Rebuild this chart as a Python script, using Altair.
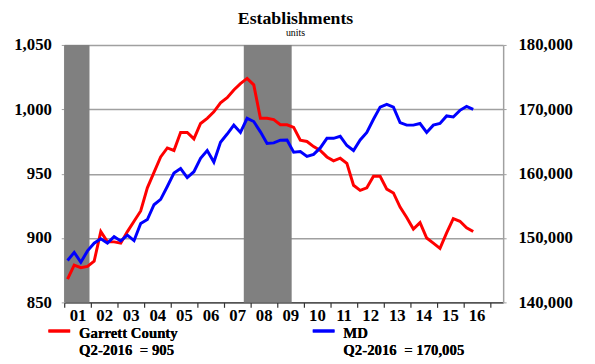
import altair as alt
import pandas as pd

# ---- data -----------------------------------------------------------
YEAR_LABELS = ["01", "02", "03", "04", "05", "06", "07", "08",
               "09", "10", "11", "12", "13", "14", "15", "16"]

# quarterly values 2001Q1 .. 2016Q2
GARRETT = [868, 879, 877, 878, 882, 905, 897, 897, 896, 905, 913, 921,
           939, 951, 963, 970, 968, 982, 982, 977, 989, 993, 998, 1005,
           1009, 1015, 1020, 1024, 1019, 993, 993, 992, 988, 988, 986, 976,
           975, 971, 968, 963, 960, 962, 958, 941, 937, 939, 948, 948,
           938, 935, 924, 916, 907, 912, 900, 896, 892, 904, 915, 913,
           908, 905]
MD = [146500, 147770, 146240, 148000, 149200, 149900, 149200, 150200,
      149550, 150450, 149600, 152260, 152870, 155170, 156000, 158000,
      160100, 160800, 159400, 160300, 162400, 163600, 161800, 164870,
      166160, 167540, 166400, 168600, 168100, 166500, 164700, 164780,
      165200, 165240, 163340, 163450, 162680, 163000, 164000, 165490,
      165490, 165800, 164370, 163600, 165240, 166400, 168460, 170350,
      170760, 170350, 167940, 167540, 167540, 167790, 166410, 167540,
      167790, 168970, 168810, 169840, 170450, 170005]

REC_START = [2001.0, 2007.75]
REC_END = [2001.95, 2009.55]

SERIES = ["Garrett County", "MD"]
LAST_VALUE = ["Q2-2016\u00a0 = 905", "Q2-2016\u00a0 = 170,005"]
COLORS = ["#ff0000", "#0000ff"]

LEFT_TICKS = [850, 900, 950, 1000, 1050]
RIGHT_TICKS = [140000, 150000, 160000, 170000, 180000]

# ---- tables -----------------------------------------------------------
n = len(GARRETT)
df = pd.DataFrame({
    "t": [2001 + (i + 0.5) / 4 for i in range(n)],
    "garrett": GARRETT,
    "md": MD,
})
rec = pd.DataFrame({"start": REC_START, "end": REC_END})

FONT = "Liberation Serif"
W, H = 445, 261

label_expr = "[" + ",".join("'%s'" % s for s in YEAR_LABELS) + ",''][datum.value - 2001]"

x_axis = alt.Axis(
    values=list(range(2001, 2018)), labelExpr=label_expr, labelOffset=13.5,
    title=None, grid=False, domainColor="#333333", domainWidth=1.5,
    tickColor="#333333", tickSize=5, tickWidth=1.2, labelFont=FONT,
    labelFontSize=17, labelFontWeight="bold", labelColor="#000000",
    labelPadding=0, labelFlush=False, labelOverlap=False, labelBound=False,
)
x_scale = alt.Scale(domain=[2001, 2017.5], nice=False, zero=False)

bands = alt.Chart(rec).mark_rect(color="#808080").encode(
    x=alt.X("start:Q", scale=x_scale, axis=x_axis),
    x2="end:Q",
    y=alt.value(0),
    y2=alt.value(H),
)

red = alt.Chart(df).mark_line(color=COLORS[0], strokeWidth=3).encode(
    x=alt.X("t:Q", scale=x_scale, axis=x_axis),
    y=alt.Y("garrett:Q",
            scale=alt.Scale(domain=[850, 1050], nice=False, zero=False),
            axis=alt.Axis(orient="left", values=LEFT_TICKS, format=",d",
                          title=None, grid=True, gridColor="#a0a0a0",
                          gridWidth=1.5, domainColor="#a0a0a0",
                          domainWidth=1.5, tickColor="#a0a0a0",
                          tickSize=3, labelFont=FONT, labelFontSize=17,
                          labelFontWeight="bold", labelColor="#000000",
                          labelPadding=10)),
)

blue = alt.Chart(df).mark_line(color=COLORS[1], strokeWidth=3).encode(
    x=alt.X("t:Q", scale=x_scale, axis=x_axis),
    y=alt.Y("md:Q",
            scale=alt.Scale(domain=[140000, 180000], nice=False, zero=False),
            axis=alt.Axis(orient="right", values=RIGHT_TICKS, format=",d",
                          title=None, grid=False, domainColor="#a0a0a0",
                          domainWidth=1.5, tickColor="#a0a0a0",
                          tickSize=3, labelFont=FONT, labelFontSize=17,
                          labelFontWeight="bold", labelColor="#000000",
                          labelPadding=12)),
)

# ---- legend (drawn below the axis) ------------------------------------
def legend_item(i, x0):
    line = alt.Chart(rec).mark_rule(color=COLORS[i], strokeWidth=3).encode(
        x=alt.value(x0), x2=alt.value(x0 + 22), y=alt.value(290))
    name = alt.Chart(rec).mark_text(
        text=SERIES[i], font=FONT, fontSize=15, fontWeight="bold",
        align="left", baseline="middle", color="#000000").encode(
        x=alt.value(x0 + 31), y=alt.value(292))
    last = alt.Chart(rec).mark_text(
        text=LAST_VALUE[i], font=FONT, fontSize=15, fontWeight="bold",
        align="left", baseline="middle", color="#000000").encode(
        x=alt.value(x0 + 31), y=alt.value(309))
    return [line, name, last]

legend_layers = legend_item(0, -16) + legend_item(1, 252)

chart = alt.layer(bands, red, blue, *legend_layers).resolve_scale(
    y="independent"
).properties(
    width=W, height=H,
    autosize=alt.AutoSizeParams(type="none"),
    padding={"left": 57, "top": 35, "right": 85, "bottom": 60},
    title=alt.TitleParams(
        text="Establishments", subtitle="units", font=FONT, fontSize=18,
        fontWeight="bold", color="#000000", subtitleFont=FONT,
        subtitleFontSize=10, subtitleColor="#000000", subtitlePadding=0,
        anchor="middle", dx=12, offset=-2),
).configure_view(stroke=None)

chart.save("out.html", embed_options={"renderer": "svg", "actions": False})
